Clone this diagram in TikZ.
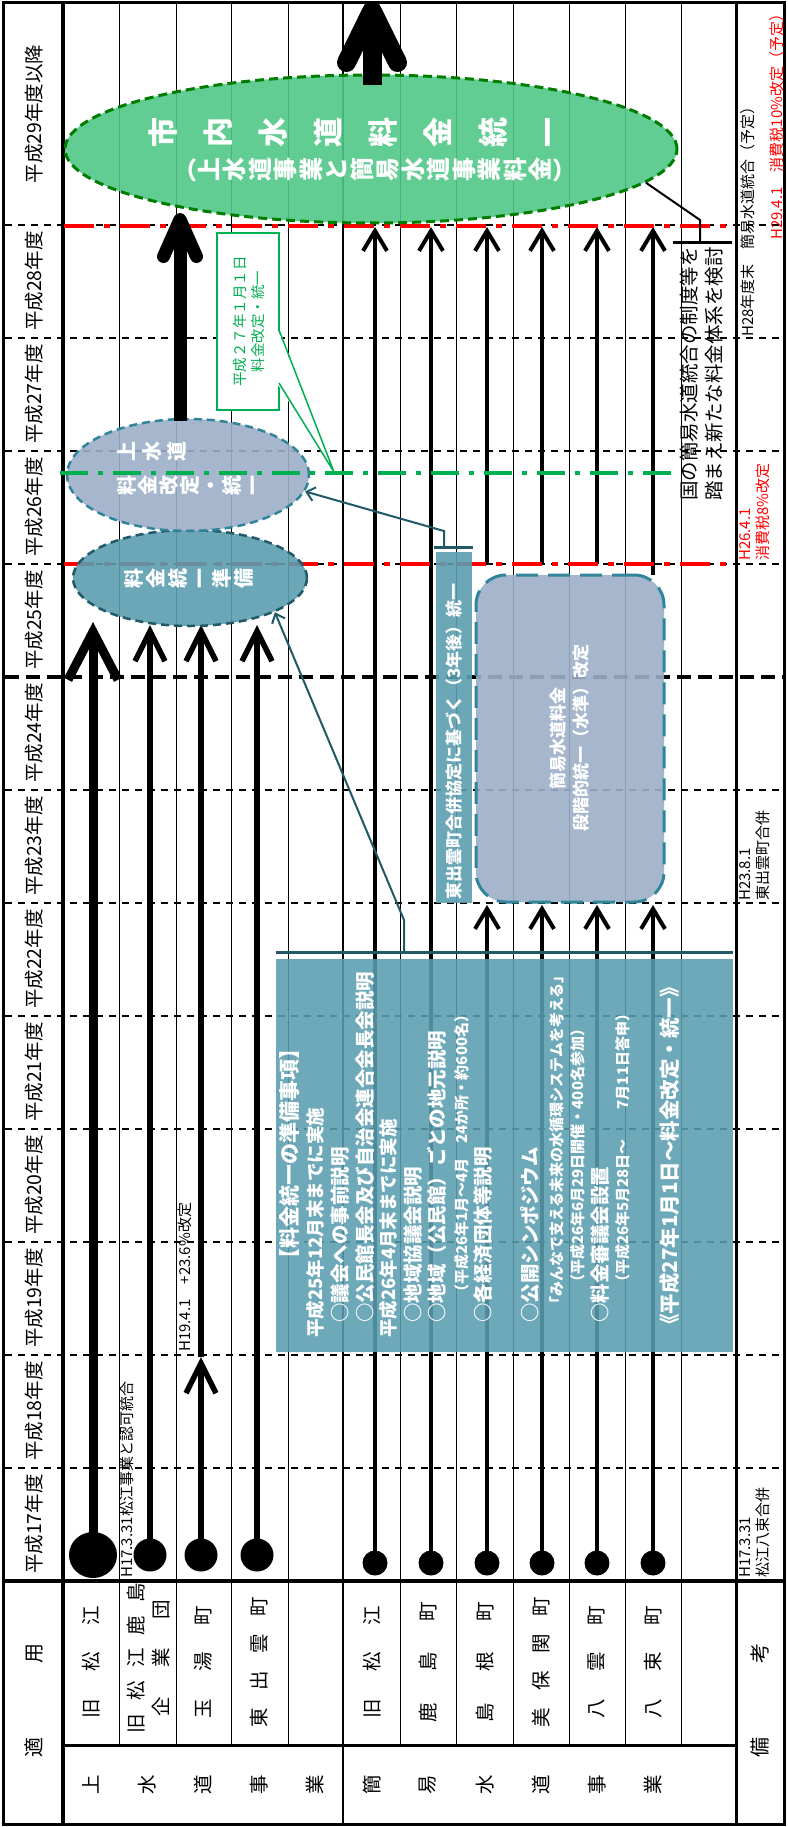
\documentclass[tikz,border=0pt]{standalone}
\usepackage{fontspec}
\setmainfont{Noto Sans CJK JP}
\usepackage{graphicx}
\usetikzlibrary{arrows.meta,shapes.geometric,calc}
\definecolor{tealA}{RGB}{91,158,176}
\definecolor{tealD}{RGB}{33,89,104}
\definecolor{tealB}{RGB}{49,133,155}
\definecolor{bgrey}{RGB}{157,176,200}
\definecolor{greenA}{RGB}{80,200,135}
\definecolor{greenD}{RGB}{0,125,0}
\definecolor{greenL}{RGB}{0,176,80}
\newcommand\fsz[1]{\fontsize{#1}{#1}\selectfont}
\makeatletter
\newcommand\vtsep{0pt}
\def\vt@stop{\vt@stop}
\newcommand\vtext[2][0pt]{\renewcommand\vtsep{#1}\vt@loop#2\vt@stop\hspace{-\vtsep}}
\def\vt@loop#1{\ifx\vt@stop#1\else\rotatebox[origin=c]{90}{\makebox[1em]{\rule[-0.12em]{0pt}{1em}#1}}\hspace{\vtsep}\expandafter\vt@loop\fi}
\makeatother
\begin{document}
\begin{tikzpicture}[x=1pt,y=-1pt,
  gridline/.style={line width=0.9pt},
  yearline/.style={line width=1.8pt, dash pattern=on 7pt off 6pt},
  vlab/.style={rotate=90, inner sep=0pt, font=\fsz{19.5}},
  dotnode/.style={ellipse, fill=black, inner sep=0pt},
  josuiline/.style={line width=5.5pt, -{Straight Barb[length=30pt,width=30pt]}},
  kanline/.style={line width=4pt, -{Straight Barb[length=20pt,width=24pt]}},
  reddash/.style={red, line width=4.5pt, dash pattern=on 30pt off 10pt on 6pt off 10pt},
  note/.style={rotate=90, inner sep=0pt, anchor=north west, align=left, font=\fontsize{15}{18}\selectfont},
  info/.style={rotate=90, anchor=west, inner sep=0pt, text=white, font=\bfseries\fsz{19.5}},
  ptr/.style={tealD, line width=2pt, -{Straight Barb[length=8pt,width=14pt]}}
]
\useasboundingbox (0,0) rectangle (787,1827);
\fill[white] (0,0) rectangle (787,1827);

% ---------- grid ----------
\foreach \x in {119,176,231,288,400,456,513,569,625,681}
  \draw[gridline] (\x,3) -- (\x,1745);
\draw[line width=2pt] (343,3) -- (343,1824);
\draw[line width=3pt] (736,3) -- (736,1824);
\draw[line width=3.5pt] (63,3) -- (63,1824);
\draw[line width=3.5pt] (3,1581) -- (784,1581);
\draw[line width=3pt] (63,1745) -- (736,1745);
\foreach \y in {225,338,451,564,790,903,1016,1129,1242,1355,1468}
  \draw[yearline] (5,\y) -- (784,\y);
\draw[line width=3.5pt, dash pattern=on 14pt off 7pt] (5,677) -- (784,677);
\draw[line width=3pt] (3,3) rectangle (784,1824);

% ---------- year labels ----------
\foreach \y/\t [count=\i] in {1524/平成17年度,1411/平成18年度,1298/平成19年度,1185/平成20年度,1072/平成21年度,959/平成22年度,846/平成23年度,733/平成24年度,620/平成25年度,507/平成26年度,394/平成27年度,281/平成28年度,114/平成29年度以降}
  \node[vlab] (yr\i) at (34,\y) {\t};

% ---------- header ----------
\node[vlab, font=\fsz{20}] (tekiyo) at (34,1700) {\makebox[114pt]{適\hfill 用}};
\node[vlab, font=\fsz{20}] (biko) at (760,1700) {\makebox[114pt]{備\hfill 考}};
\node[vlab] (h1) at (91,1662) {\makebox[112pt]{旧\hfill 松\hfill 江}};
\node[vlab] (h2a) at (136,1658) {\makebox[150pt]{旧\hfill 松\hfill 江\hfill 鹿\hfill 島}};
\node[vlab] (h2b) at (161,1658) {\makebox[117pt]{企\hfill 業\hfill 団}};
\node[vlab] (h3) at (203,1662) {\makebox[112pt]{玉\hfill 湯\hfill 町}};
\node[vlab] (h4) at (259,1662) {\makebox[130pt]{東\hfill 出\hfill 雲\hfill 町}};
\node[vlab] (h5) at (372,1662) {\makebox[112pt]{旧\hfill 松\hfill 江}};
\node[vlab] (h6) at (428,1662) {\makebox[120pt]{鹿\hfill 島\hfill 町}};
\node[vlab] (h7) at (485,1662) {\makebox[120pt]{島\hfill 根\hfill 町}};
\node[vlab] (h8) at (541,1662) {\makebox[130pt]{美\hfill 保\hfill 関\hfill 町}};
\node[vlab] (h9) at (597,1662) {\makebox[112pt]{八\hfill 雲\hfill 町}};
\node[vlab] (h10) at (653,1662) {\makebox[112pt]{八\hfill 束\hfill 町}};
\foreach \x/\c [count=\i] in {91/上,147/水,203/道,259/事,315/業,372/簡,428/易,485/水,541/道,597/事,653/業}
  \node[vlab] (cat\i) at (\x,1785) {\c};

% ---------- start dots and lines ----------
\node[dotnode, minimum width=48pt, minimum height=46pt] (c1) at (93,1555) {};
\node[dotnode, minimum size=33pt] (c2) at (150,1555) {};
\node[dotnode, minimum size=33pt] (c3) at (201,1555) {};
\node[dotnode, minimum size=33pt] (c4) at (257,1555) {};
\foreach \x [count=\i] in {375,431,487,542,597,653}
  \node[dotnode, minimum size=25pt] (k\i) at (\x,1563) {};

\coordinate (e1) at (93,622);
\coordinate (e2) at (150,625);
\coordinate (m3) at (201,1357);
\coordinate (e3) at (201,625);
\coordinate (e4) at (257,625);
\draw[line width=9pt, -{Straight Barb[length=48pt,width=50pt]}] (c1.center) -- (e1);
\draw[josuiline] (c2.center) -- (e2);
\draw[josuiline] (c3.center) -- (m3);
\draw[josuiline] (m3) -- (e3);
\draw[josuiline] (c4.center) -- (e4);

\foreach \x [count=\i] in {375,431,487,542,597,653}
  \coordinate (t\i) at (\x,227);
\foreach \i in {3,4,5,6} {
  \coordinate (m\i k) at ($(k\i |- 0,905)$);
  \coordinate (s\i) at ($(k\i |- 0,564)$);
}
\coordinate (s6) at (653,575);
\draw[kanline] (k1.center) -- (t1);
\draw[kanline] (k2.center) -- (t2);
\foreach \i in {3,4,5,6} {
  \draw[kanline] (k\i.center) -- (m\i k);
  \draw[kanline] (s\i) -- (t\i);
}

% ---------- red dash-dot lines ----------
\draw[reddash] (64,564) -- (726,564);
\draw[reddash] (64,226) -- (726,226);

% ---------- ellipses ----------
\node[ellipse, inner sep=0pt, minimum width=234pt, minimum height=96pt, fill=tealA, fill opacity=0.9, draw=tealD, line width=2.5pt, dash pattern=on 8pt off 5pt] (junbi) at (190,578) {};
\node[ellipse, inner sep=0pt, minimum width=242pt, minimum height=112pt, fill=bgrey, fill opacity=0.9, draw=tealB, line width=2.5pt, dash pattern=on 8pt off 5pt] (josui) at (188,475) {};
\node[ellipse, inner sep=0pt, minimum width=612pt, minimum height=148pt, fill=greenA, fill opacity=0.9, draw=greenD, line width=3pt, dash pattern=on 9pt off 5pt] (shinai) at (371,149) {};

\node[text=white, font=\bfseries\fsz{20}, inner sep=0pt] (junbit) at (190,578) {\vtext[2pt]{料金統一準備}};
\node[text=white, font=\bfseries\fontsize{20}{34}\selectfont, align=left, inner sep=0pt] (josuit) at (190,468) {\vtext[5pt]{上水道}\\\vtext[1pt]{料金改定・統一}};
\node[text=white, font=\bfseries\fsz{30}, inner sep=0pt] (shinait1) at (368,133) {\vtext[25pt]{市内水道料金統一}};
\node[text=white, font=\bfseries\fsz{24}, inner sep=0pt] (shinait2) at (375,170) {（\vtext[1.5pt]{上水道事業と簡易水道事業料金}）};

% green line
\draw[greenL, line width=4.5pt, dash pattern=on 28pt off 10pt on 5pt off 10pt] (60,473) -- (675,473);

% ---------- boxes ----------
\node[fill=tealA, fill opacity=0.88, minimum width=457pt, minimum height=393pt, inner sep=0pt] (infobox) at (504.5,1155.5) {};
\draw[tealD, line width=3pt] (276,952) -- (733,952);
\coordinate (jbar) at (404,952);
\coordinate (jbend) at (404,920);
\draw[ptr] (jbar) -- (jbend) -- (junbi.-22);

\node[fill=tealA, fill opacity=0.9, minimum width=36pt, minimum height=351pt, inner sep=0pt] (higashi) at (454,727.5) {};
\node[rotate=90, anchor=west, inner sep=0pt, text=white, font=\bfseries\fsz{17}] (higashit) at (454,900) {東出雲町合併協定に基づく（3年後）統一};
\draw[tealD, line width=3pt] (434,547) -- (473,547);
\coordinate (hbar) at (444,547);
\coordinate (hbend) at (444,531);
\draw[ptr] (hbar) -- (hbend) -- (josui.-8);

\node[fill=bgrey, fill opacity=0.9, draw=tealB, line width=3pt, dash pattern=on 22pt off 10pt, rounded corners=30pt, minimum width=188pt, minimum height=327pt, inner sep=0pt] (kanibox) at (570,738.5) {};
\node[rotate=90, align=center, inner sep=0pt, text=white, font=\bfseries\fontsize{17}{23}\selectfont] (kanit) at (570,738) {簡易水道料金\\段階的統一（水準）改定};

% callout
\node[draw=greenL, line width=2pt, fill=white, minimum width=62pt, minimum height=177pt, inner sep=0pt] (callout) at (248,321.5) {};
\coordinate (calltip) at (334,472);
\fill[white] (277.5,329) -- (calltip) -- (277.5,384) -- cycle;
\draw[greenL, line width=1.5pt] (279,330) -- (calltip) -- (279,383);
\node[rotate=90, align=center, inner sep=0pt, text=greenL, font=\fontsize{14.5}{18}\selectfont] (callt) at (249,321.5) {平成２７年１月１日\\料金改定・統一};

% big arrows
\coordinate (a1s) at (180,421);
\coordinate (a1e) at (180,213);
\draw[line width=13pt, -{Straight Barb[length=37pt,width=33pt,round]}] (a1s) -- (a1e);
\coordinate (a2s) at (372,85);
\coordinate (a2e) at (372,1);
\draw[line width=19pt, -{Straight Barb[length=52pt,width=51pt,round]}] (a2s) -- (a2e);

% info text
\node[info, font=\bfseries\fsz{21}] (i1) at (290,1270) {【料金統一の準備事項】};
\node[info, font=\bfseries\fsz{18.5}] (i2) at (315,1338) {平成25年12月末までに実施};
\node[info] (i3) at (340,1323) {○議会への事前説明};
\node[info] (i4) at (365,1323) {○公民館長会及び自治会連合会長会説明};
\node[info, font=\bfseries\fsz{18.5}] (i5) at (388,1338) {平成26年4月末までに実施};
\node[info] (i6) at (413,1323) {○地域協議会説明};
\node[info] (i7) at (437,1323) {○地域（公民館）ごとの地元説明};
\node[info, font=\bfseries\fsz{15}] (i8) at (462,1300) {（平成26年1月～4月　24か所・約600名）};
\node[info] (i9) at (483,1323) {○各経済団体等説明};
\node[info] (i10) at (530,1323) {○公開シンポジウム};
\node[info, font=\bfseries\fsz{15}] (i11) at (557,1312) {「みんなで支える未来の水循環システムを考える」};
\node[info, font=\bfseries\fsz{15}] (i12) at (578,1290) {（平成26年6月29日開催・400名参加）};
\node[info] (i13) at (600,1323) {○料金審議会設置};
\node[info, font=\bfseries\fsz{15}] (i14) at (623,1290) {（平成26年5月28日～　　7月11日答申）};
\node[info, font=\bfseries\fsz{20.5}] (i15) at (670,1335) {《平成27年1月1日～料金改定・統一》};

% ---------- notes ----------
\node[rotate=90, anchor=west, inner sep=0pt, font=\fsz{15}] (n1) at (127,1578) {H17.3.31松江事業と認可統合};
\node[rotate=90, anchor=west, inner sep=0pt, font=\fsz{15}] (n2) at (185,1352) {H19.4.1　+23.6\%改定};
\node[note] (n3) at (739,1578) {H17.3.31\\松江八束合併};
\node[note] (n4) at (739,901) {H23.8.1\\東出雲町合併};
\node[note, text=red] (n5) at (739,561) {H26.4.1\\消費税8\%改定};
\node[rotate=90, anchor=west, inner sep=0pt, font=\fsz{15}] (n6) at (748,337) {H28年度末　簡易水道統合（予定）};
\node[rotate=90, anchor=west, inner sep=0pt, text=red, font=\fsz{15}] (n7) at (777,240) {H29.4.1　消費税10\%改定（予定）};
\node[rotate=90, anchor=north west, align=left, inner sep=0pt, font=\fontsize{19.5}{25}\selectfont] (n8) at (680,501) {国の簡易水道統合の制度等を\\踏まえ新たな料金体系を検討};
\coordinate (kbend) at (700,220);
\coordinate (kbar) at (700,243);
\draw[line width=2pt] (shinai.-7.5) -- (kbend) -- (kbar);
\draw[line width=3pt] (673,243) -- (732,243);
\end{tikzpicture}
\end{document}
